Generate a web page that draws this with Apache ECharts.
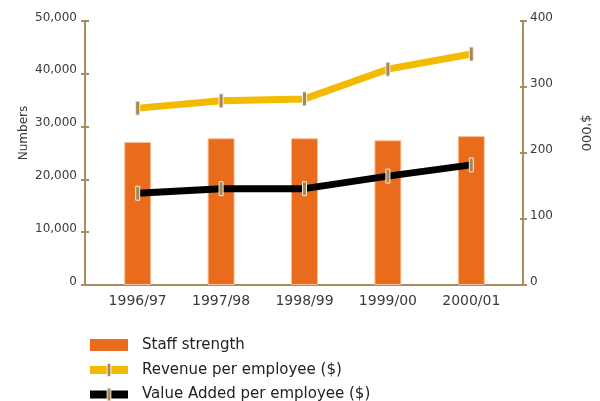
<!DOCTYPE html>
<html>
<head>
<meta charset="utf-8">
<script src="https://cdn.jsdelivr.net/npm/echarts@6/dist/echarts.min.js"></script>
<style>
  html, body { margin: 0; padding: 0; background: #fff; }
  #chart { width: 600px; height: 401px; }
</style>
</head>
<body>
<div id="chart"></div>
<script>
// Financial years
const categories = ['1996/97', '1997/98', '1998/99', '1999/00', '2000/01'];
// Staff strength (numbers, left axis)
const staffStrength = [27100, 27800, 27800, 27400, 28200];
// Revenue per employee ($'000, right axis)
const revenuePerEmployee = [268, 279, 282, 327, 350];
// Value added per employee ($'000, right axis)
const valueAddedPerEmployee = [139, 146, 146, 165, 182];

const seriesNames = ['Staff strength', 'Revenue per employee ($)', 'Value Added per employee ($)'];

const AXIS_COLOR = '#A98D60';
const LABEL_COLOR = '#3a3a3a';
const FONT = 'DejaVu Sans';

// narrow upright bar centred in a square box, so the legend keeps it slim
const BAR_MARK = 'path://M0,0M14,14M5,0h4v14h-4z';
// legend swatch for the bars: 38x12 block inside a 38x16 box
const BLOCK_ICON = 'path://M0,0M38,16M0,2h38v12h-38z';

const marker = {
  symbol: BAR_MARK,
  symbolSize: 14,
  itemStyle: { color: '#A5865A', borderColor: '#F6EEDC', borderWidth: 1 }
};

// value labels sit a little above their tick
const valueLabel = {
  color: LABEL_COLOR, fontFamily: FONT, fontSize: 12,
  verticalAlign: 'bottom', lineHeight: 7
};

const chart = echarts.init(document.getElementById('chart'), null, { renderer: 'canvas' });

chart.setOption({
  animation: false,
  backgroundColor: '#fff',
  grid: [
    // outer frame: carries the visible axes
    { left: 85, right: 76, top: 21, bottom: 116 },
    // plotting area for the categories
    { left: 96, right: 87, top: 21, bottom: 116 }
  ],
  xAxis: [
    {
      gridIndex: 0, type: 'value', min: 0, max: 1,
      axisLine: { show: true, lineStyle: { color: AXIS_COLOR, width: 2 } },
      axisTick: { show: false }, axisLabel: { show: false }, splitLine: { show: false }
    },
    {
      gridIndex: 1, type: 'category', data: categories,
      axisLine: { show: false }, axisTick: { show: false },
      axisLabel: { color: LABEL_COLOR, fontFamily: FONT, fontSize: 14, margin: 9 },
      splitLine: { show: false }
    }
  ],
  yAxis: [
    {
      gridIndex: 0, type: 'value', position: 'left', min: 0, max: 50000, interval: 10000,
      name: 'Numbers', nameLocation: 'middle', nameGap: 55, nameRotate: 90, nameMoveOverlap: false,
      nameTextStyle: { color: LABEL_COLOR, fontFamily: FONT, fontSize: 12, padding: [0, 0, 0, 40] },
      axisLine: { show: true, lineStyle: { color: AXIS_COLOR, width: 2 } },
      axisTick: { show: true, length: 4, lineStyle: { color: AXIS_COLOR, width: 2 } },
      axisLabel: { ...valueLabel, margin: 8, formatter: v => v.toLocaleString('en-US') },
      splitLine: { show: false }
    },
    {
      gridIndex: 0, type: 'value', position: 'right', min: 0, max: 400, interval: 100,
      name: "$'000", nameLocation: 'middle', nameGap: 56, nameRotate: -90, nameMoveOverlap: false,
      nameTextStyle: { color: LABEL_COLOR, fontFamily: FONT, fontSize: 13, padding: [0, 40, 0, 0] },
      axisLine: { show: true, lineStyle: { color: AXIS_COLOR, width: 2 } },
      axisTick: { show: true, length: 4, lineStyle: { color: AXIS_COLOR, width: 2 } },
      axisLabel: { ...valueLabel, margin: 7 },
      splitLine: { show: false }
    },
    {
      gridIndex: 1, type: 'value', position: 'left', offset: 11, min: 0, max: 50000, interval: 10000,
      axisLine: { show: false }, axisLabel: { show: false }, splitLine: { show: false },
      axisTick: { show: true, inside: true, length: 4, lineStyle: { color: AXIS_COLOR, width: 2 } }
    },
    {
      gridIndex: 1, type: 'value', position: 'right', offset: 11, min: 0, max: 400, interval: 100,
      axisLine: { show: false }, axisLabel: { show: false }, splitLine: { show: false },
      axisTick: { show: true, inside: true, length: 4, lineStyle: { color: AXIS_COLOR, width: 2 } }
    }
  ],
  legend: {
    orient: 'vertical', left: 86, top: 337, padding: 0, height: 120,
    itemWidth: 38, itemHeight: 16, itemGap: 9.5,
    lineStyle: { width: 8 },
    itemStyle: { borderWidth: 1 },
    textStyle: { color: '#222', fontFamily: FONT, fontSize: 15, padding: [0, 0, 0, 9] },
    data: [
      { name: seriesNames[0], icon: BLOCK_ICON, itemStyle: { borderWidth: 0 } },
      { name: seriesNames[1] },
      { name: seriesNames[2] }
    ]
  },
  series: [
    {
      name: seriesNames[0], type: 'bar', xAxisIndex: 1, yAxisIndex: 2,
      data: staffStrength, barWidth: 27,
      itemStyle: { color: '#E96B1C', borderColor: '#F6C29C', borderWidth: 1 }
    },
    {
      name: seriesNames[1], type: 'line', xAxisIndex: 1, yAxisIndex: 3,
      data: revenuePerEmployee,
      lineStyle: { color: '#F2BA00', width: 7 },
      ...marker
    },
    {
      name: seriesNames[2], type: 'line', xAxisIndex: 1, yAxisIndex: 3,
      data: valueAddedPerEmployee,
      lineStyle: { color: '#000000', width: 7 },
      ...marker
    }
  ]
});
</script>
</body>
</html>
